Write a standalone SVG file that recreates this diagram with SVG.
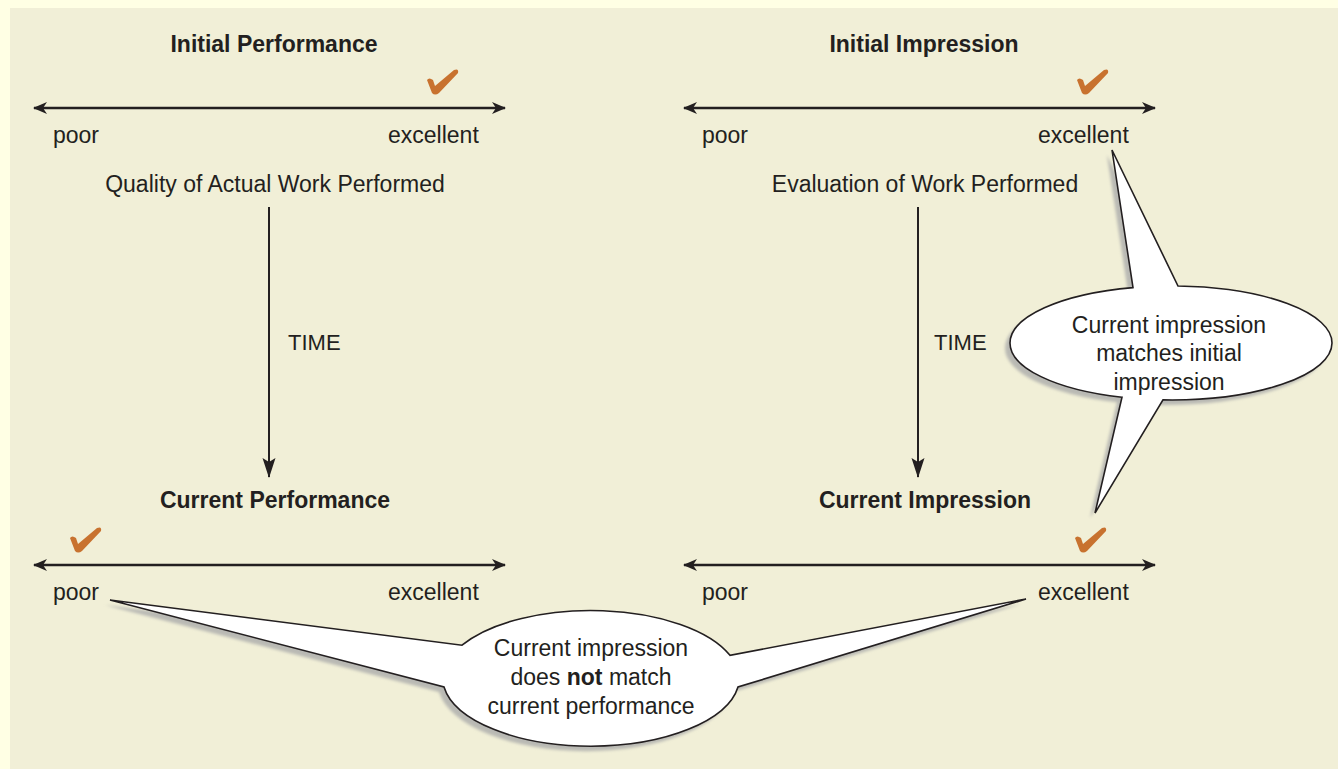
<svg xmlns="http://www.w3.org/2000/svg" width="1338" height="769" viewBox="0 0 1338 769">
<style>
  text { font-family: "Liberation Sans", Arial, sans-serif; fill: #231f20; }
  .title { font-size: 23px; font-weight: bold; text-anchor: middle; }
  .lbl { font-size: 23px; }
  .mid { text-anchor: middle; }
  .time { font-size: 22px; }
  .axis { stroke: #231f20; stroke-width: 2.5; fill: none; }
  .vline { stroke: #231f20; stroke-width: 2; fill: none; }
  .check { fill: #c8722f; }
  .bubble { fill: #ffffff; stroke: #231f20; stroke-width: 1.6; stroke-linejoin: miter; }
  .shadow { fill: #b9b9b4; }
</style>
<defs>
  <marker id="ah" viewBox="-14 -7 16 14" refX="0" refY="0" markerWidth="16" markerHeight="14" markerUnits="userSpaceOnUse" orient="auto-start-reverse">
    <path d="M 1,0 L -13,-6 L -9,0 L -13,6 Z" fill="#231f20"/>
  </marker>
  <marker id="ahv" viewBox="-20 -8 22 16" refX="0" refY="0" markerWidth="22" markerHeight="16" markerUnits="userSpaceOnUse" orient="auto">
    <path d="M 1,0 L -19,-6.5 L -15,0 L -19,6.5 Z" fill="#231f20"/>
  </marker>
  <path id="chk" d="M -8,-12 Q -6,-15 -2,-12 L 0,-6 L 19,-22 Q 24,-24 23,-19 L 4,1 Q 0,4 -3,1 Z"/>
  <filter id="blur" x="-10%" y="-10%" width="120%" height="120%">
    <feGaussianBlur stdDeviation="1.8"/>
  </filter>
</defs>

<rect x="0" y="0" width="1338" height="769" fill="#ffffe4"/>
<rect x="10" y="8" width="1328" height="761" fill="#f1efd7"/>

<g id="connectors">
  <line class="axis" x1="34" y1="108" x2="505" y2="108" marker-start="url(#ah)" marker-end="url(#ah)"/>
  <line class="axis" x1="684" y1="108" x2="1155" y2="108" marker-start="url(#ah)" marker-end="url(#ah)"/>
  <line class="axis" x1="34" y1="565" x2="505" y2="565" marker-start="url(#ah)" marker-end="url(#ah)"/>
  <line class="axis" x1="684" y1="565" x2="1155" y2="565" marker-start="url(#ah)" marker-end="url(#ah)"/>
  <line class="vline" x1="269" y1="207" x2="269" y2="477" marker-end="url(#ahv)"/>
  <line class="vline" x1="918" y1="207" x2="918" y2="477" marker-end="url(#ahv)"/>
</g>

<g id="initial-performance">
  <text class="title" x="274" y="52">Initial Performance</text>
  <use href="#chk" class="check" x="435" y="92"/>
  <text class="lbl" x="53" y="143">poor</text>
  <text class="lbl" x="388" y="143">excellent</text>
  <text class="lbl mid" x="275" y="192">Quality of Actual Work Performed</text>
</g>

<g id="initial-impression">
  <text class="title" x="924" y="52">Initial Impression</text>
  <use href="#chk" class="check" x="1085" y="92"/>
  <text class="lbl" x="702" y="143">poor</text>
  <text class="lbl" x="1038" y="143">excellent</text>
  <text class="lbl mid" x="925" y="192">Evaluation of Work Performed</text>
</g>

<g id="time-left">
  <text class="time" x="288" y="350">TIME</text>
</g>
<g id="time-right">
  <text class="time" x="934" y="350">TIME</text>
</g>

<g id="current-performance">
  <text class="title" x="275" y="508">Current Performance</text>
  <use href="#chk" class="check" x="78" y="550"/>
  <text class="lbl" x="53" y="600">poor</text>
  <text class="lbl" x="388" y="600">excellent</text>
</g>

<g id="current-impression">
  <text class="title" x="925" y="508">Current Impression</text>
  <use href="#chk" class="check" x="1083" y="550"/>
  <text class="lbl" x="702" y="600">poor</text>
  <text class="lbl" x="1038" y="600">excellent</text>
</g>

<g id="callout-matches">
  <path class="shadow" filter="url(#blur)" transform="translate(-5,5)" d="M 1133,287.6 L 1112,150 L 1178,286 A 161 57 0 0 1 1332,343 A 161 57 0 0 1 1163,399.9 L 1095,513 L 1122,397.3 A 161 57 0 0 1 1010,343 A 161 57 0 0 1 1133,287.6 Z"/>
  <path class="bubble" d="M 1133,287.6 L 1112,150 L 1178,286 A 161 57 0 0 1 1332,343 A 161 57 0 0 1 1163,399.9 L 1095,513 L 1122,397.3 A 161 57 0 0 1 1010,343 A 161 57 0 0 1 1133,287.6 Z"/>
  <text class="lbl mid" x="1169" y="333">Current impression</text>
  <text class="lbl mid" x="1169" y="361">matches initial</text>
  <text class="lbl mid" x="1169" y="390">impression</text>
</g>

<g id="callout-not-match">
  <path class="shadow" filter="url(#blur)" transform="translate(-5,5)" d="M 462,645.2 A 148.5 69 0 0 1 730,655.3 L 1026,599 L 738,687 A 148.5 69 0 0 1 444,687 L 110,600 Z"/>
  <path class="bubble" d="M 462,645.2 A 148.5 69 0 0 1 730,655.3 L 1026,599 L 738,687 A 148.5 69 0 0 1 444,687 L 110,600 Z"/>
  <text class="lbl mid" x="591" y="656">Current impression</text>
  <text class="lbl mid" x="591" y="685">does <tspan font-weight="bold">not</tspan> match</text>
  <text class="lbl mid" x="591" y="714">current performance</text>
</g>
</svg>
